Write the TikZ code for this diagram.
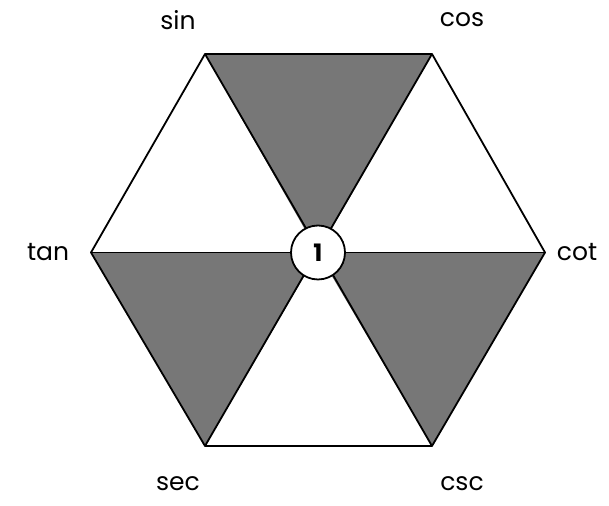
\documentclass[tikz,border=0pt]{standalone}
\usepackage{fontspec}
\setmainfont{Poppins}
\definecolor{trigray}{HTML}{777777}
\begin{document}
\begin{tikzpicture}[x=1pt,y=1pt,
  edge/.style={line width=1.8pt,line join=round},
  lab/.style={font=\fontsize{25}{28}\selectfont,inner sep=0pt,anchor=center}]
\useasboundingbox (0,0) rectangle (609,505);
\coordinate (S) at (205,451);
\coordinate (C) at (432,451);
\coordinate (T) at (91,252.5);
\coordinate (K) at (545,252.5);
\coordinate (E) at (205,59);
\coordinate (R) at (432,59);
\coordinate (O) at (318,252.5);
\fill[trigray] (S) -- (C) -- (O) -- cycle;
\fill[trigray] (T) -- (E) -- (O) -- cycle;
\fill[trigray] (K) -- (R) -- (O) -- cycle;
\draw[edge] (S) -- (C) -- (K) -- (R) -- (E) -- (T) -- cycle;
\draw[edge] (S) -- (R);
\draw[edge] (C) -- (E);
\draw[edge] (T) -- (K);
\node[circle,draw,fill=white,line width=1.8pt,minimum size=54pt,inner sep=0pt,font=\fontsize{24}{28}\selectfont\bfseries] (one) at (O) {1};
\node[lab] (lsin) at (178,485) {sin};
\node[lab] (lcos) at (462,485) {cos};
\node[lab] (ltan) at (48,253) {tan};
\node[lab] (lcot) at (577,253) {cot};
\node[lab] (lsec) at (178,21) {sec};
\node[lab] (lcsc) at (462,21) {csc};
\end{tikzpicture}
\end{document}
